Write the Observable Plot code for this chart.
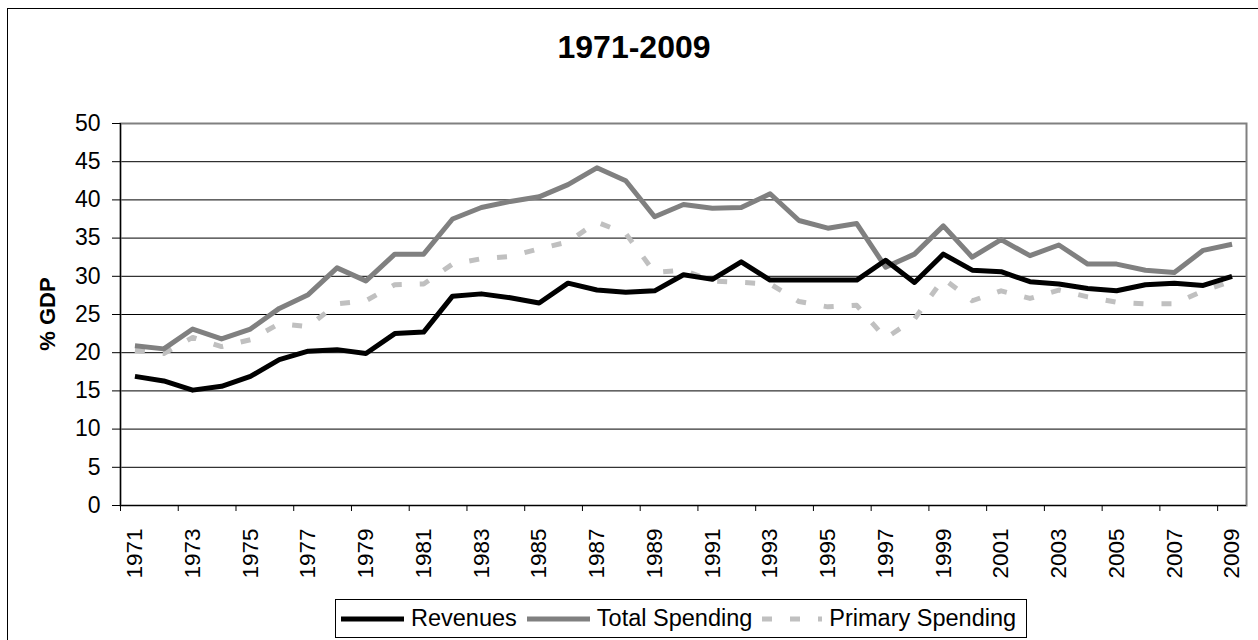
<!DOCTYPE html>
<html>
<head>
<meta charset="utf-8">
<script src="https://cdn.jsdelivr.net/npm/d3@7"></script>
<script src="https://cdn.jsdelivr.net/npm/@observablehq/plot@0.6"></script>
<style>
  html, body { margin: 0; padding: 0; background: #fff; }
  #wrap { position: relative; width: 1258px; height: 640px; overflow: hidden; font-family: "Liberation Sans", Arial, sans-serif; }
  #frame { position: absolute; left: 7px; top: 8px; width: 1400px; height: 800px; border: 1.5px solid #000; box-sizing: border-box; }
  #title { position: absolute; left: 0; width: 1268px; top: 29px; text-align: center; font-weight: bold; font-size: 32px; color: #000; }
  #ylabel { position: absolute; left: 48px; top: 314px; transform: translate(-50%, -50%) rotate(-90deg); font-weight: bold; font-size: 22px; white-space: nowrap; color: #000; }
  #chart { position: absolute; left: 0; top: 0; }
  #legend { position: absolute; left: 335px; top: 599px; width: 692px; height: 39px; border: 1px solid #000; box-sizing: border-box; display: flex; align-items: center; font-size: 23.5px; color: #000; padding-left: 5px; white-space: nowrap; }
  .item { display: flex; align-items: center; margin-right: 10px; }
  .item svg { margin-right: 7px; }
</style>
</head>
<body>
<div id="wrap">
  <div id="frame"></div>
  <div id="chart"></div>
  <div id="title"></div>
  <div id="ylabel"></div>
  <div id="legend"></div>
</div>
<script>
const titleText = "1971-2009";
const yTitle = "% GDP";
const years = d3.range(1971, 2010);
const seriesNames = ["Revenues", "Total Spending", "Primary Spending"];
const revenues = [16.9, 16.3, 15.1, 15.6, 16.9, 19.1, 20.2, 20.4, 19.9, 22.5,
                  22.7, 27.4, 27.7, 27.2, 26.5, 29.1, 28.2, 27.9, 28.1, 30.2,
                  29.6, 31.9, 29.5, 29.5, 29.5, 29.5, 32.1, 29.2, 32.9, 30.8,
                  30.6, 29.3, 29.0, 28.4, 28.1, 28.9, 29.1, 28.8, 30.0];
const totalSpending = [20.9, 20.5, 23.1, 21.8, 23.1, 25.8, 27.6, 31.1, 29.4, 32.9,
                       32.9, 37.5, 39.0, 39.8, 40.4, 42.0, 44.2, 42.5, 37.8, 39.4,
                       38.9, 39.0, 40.8, 37.3, 36.3, 36.9, 31.2, 32.9, 36.6, 32.5,
                       34.8, 32.7, 34.1, 31.6, 31.6, 30.8, 30.5, 33.4, 34.2];
const primarySpending = [20.3, 19.9, 22.0, 20.8, 21.7, 23.8, 23.4, 26.4, 26.8, 28.9,
                         29.0, 31.6, 32.3, 32.6, 33.6, 34.5, 37.1, 35.6, 30.5, 30.8,
                         29.4, 29.2, 29.0, 26.7, 26.0, 26.2, 21.9, 24.4, 29.7, 26.8,
                         28.1, 27.1, 28.2, 27.3, 26.6, 26.4, 26.4, 28.1, 29.4];
const xTickLabels = d3.range(1971, 2010, 2);
const yTicks = d3.range(0, 51, 5);

const colors = {"Revenues": "#000000", "Total Spending": "#808080", "Primary Spending": "#c0c0c0"};
const dashes = {"Revenues": null, "Total Spending": null, "Primary Spending": "10,18"};

const rows = (name, vals) => years.map((yr, i) => ({year: yr, value: vals[i], series: name}));
const data = [
  ...rows("Revenues", revenues),
  ...rows("Total Spending", totalSpending),
  ...rows("Primary Spending", primarySpending)
];

const drawOrder = ["Primary Spending", "Total Spending", "Revenues"];

const plot = Plot.plot({
  width: 1258,
  height: 590,
  marginLeft: 120,
  marginRight: 12,
  marginTop: 123,
  marginBottom: 85,
  style: {fontFamily: '"Liberation Sans", Arial, sans-serif', fontSize: "23px", color: "#000", background: "transparent"},
  x: {domain: [years[0] - 0.5, years[years.length - 1] + 0.5]},
  y: {domain: [0, 50]},
  marks: [
    Plot.gridY(yTicks, {stroke: "#000", strokeOpacity: 1, strokeWidth: 1}),
    Plot.frame({stroke: "#808080", strokeWidth: 2}),
    Plot.ruleX([years[0] - 0.5], {stroke: "#000", strokeWidth: 1.2}),
    Plot.ruleY([0], {stroke: "#000", strokeWidth: 1.2}),
    Plot.axisY({ticks: yTicks, tickSize: 8, tickPadding: 12, fontSize: 23, label: null, stroke: "#000"}),
    Plot.axisX({ticks: xTickLabels.map(d => d - 0.5), tickSize: 6, tickFormat: () => "", label: null, stroke: "#000"}),
    Plot.axisX({ticks: xTickLabels, tickSize: 0, tickPadding: 23, tickRotate: -90, textAnchor: "end", lineAnchor: "middle", fontSize: 22.5, tickFormat: d => String(d), label: null}),
    ...drawOrder.map(name => Plot.line(data.filter(d => d.series === name), {
      x: "year", y: "value",
      stroke: colors[name], strokeWidth: 5,
      strokeDasharray: dashes[name] || undefined,
      strokeLinejoin: "round", strokeLinecap: "butt"
    }))
  ]
});
document.getElementById("chart").appendChild(plot);
document.getElementById("title").textContent = titleText;
document.getElementById("ylabel").textContent = yTitle;

const legend = document.getElementById("legend");
const swatchW = {"Revenues": 63, "Total Spending": 63, "Primary Spending": 60};
seriesNames.forEach(name => {
  const item = document.createElement("div");
  item.className = "item";
  const w = swatchW[name];
  const dash = dashes[name] ? ` stroke-dasharray="${dashes[name]}"` : "";
  item.innerHTML = `<svg width="${w}" height="10"><line x1="0" y1="5" x2="${w}" y2="5" stroke="${colors[name]}" stroke-width="5"${dash}></line></svg><span>${name}</span>`;
  legend.appendChild(item);
});
</script>
</body>
</html>
